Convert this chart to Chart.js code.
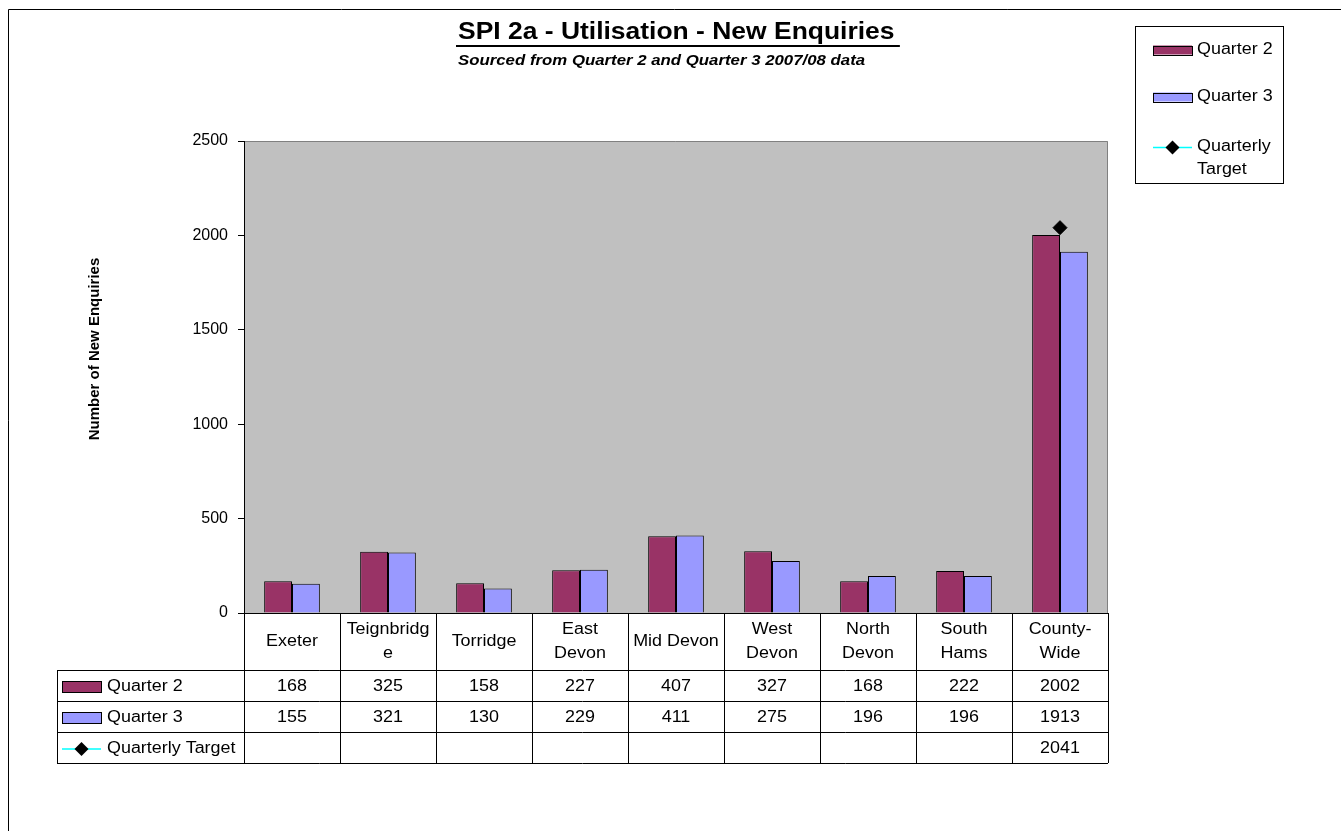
<!DOCTYPE html>
<html>
<head>
<meta charset="utf-8">
<title>SPI 2a - Utilisation - New Enquiries</title>
<script src="https://cdn.jsdelivr.net/npm/chart.js@4.4.0/dist/chart.umd.min.js"></script>
<style>
html, body { margin: 0; padding: 0; background: #fff; overflow: hidden; }
#wrap { position: relative; width: 1341px; height: 831px; }
</style>
</head>
<body>
<div id="wrap"><canvas id="chart" width="1341" height="831"></canvas></div>
<script>
const categories = [['Exeter'], ['Teignbridg', 'e'], ['Torridge'], ['East', 'Devon'], ['Mid Devon'],
    ['West', 'Devon'], ['North', 'Devon'], ['South', 'Hams'], ['County-', 'Wide']];
const quarter2 = [168, 325, 158, 227, 407, 327, 168, 222, 2002];
const quarter3 = [155, 321, 130, 229, 411, 275, 196, 196, 1913];
const quarterlyTarget = [null, null, null, null, null, null, null, null, 2041];
const yTicks = [0, 500, 1000, 1500, 2000, 2500];

const FONT = "'Liberation Sans', Arial, sans-serif";
const CAT_ROW_H = 57;
const ROW_H = 31;
const TABLE_LEFT = 57;
const TEXT_SX = 1.12;   // the worksheet text is a little wider than plain Arial

// fillText with a horizontal stretch, anchored at x
function wideText(ctx, text, x, y, sx, align) {
    ctx.save();
    ctx.translate(x, y);
    ctx.scale(sx, 1);
    ctx.textAlign = align;
    ctx.fillText(text, 0, 0);
    ctx.restore();
}

// grey plot area like the spreadsheet default
const plotBackground = {
    id: 'plotBackground',
    beforeDraw(chart) {
        const { ctx, chartArea: a } = chart;
        ctx.save();
        ctx.fillStyle = '#c0c0c0';
        ctx.fillRect(a.left, a.top, a.right - a.left, a.bottom - a.top);
        ctx.strokeStyle = '#808080';
        ctx.lineWidth = 1;
        ctx.beginPath();
        ctx.moveTo(a.left, a.top + 0.5);
        ctx.lineTo(a.right - 0.5, a.top + 0.5);
        ctx.lineTo(a.right - 0.5, a.bottom);
        ctx.stroke();
        ctx.restore();
    }
};

function drawKey(ctx, ds, x, y, w, h) {
    if (ds.type === 'line') {
        ctx.strokeStyle = ds.borderColor;
        ctx.lineWidth = 1.5;
        ctx.beginPath();
        ctx.moveTo(x, y + 0.5);
        ctx.lineTo(x + w, y + 0.5);
        ctx.stroke();
        const cx = x + w / 2, r = 7;
        ctx.fillStyle = ds.pointBackgroundColor;
        ctx.beginPath();
        ctx.moveTo(cx - r, y + 0.5);
        ctx.lineTo(cx, y + 0.5 - r);
        ctx.lineTo(cx + r, y + 0.5);
        ctx.lineTo(cx, y + 0.5 + r);
        ctx.closePath();
        ctx.fill();
    } else {
        ctx.fillStyle = ds.backgroundColor;
        ctx.fillRect(x, y - h / 2, w, h);
        ctx.strokeStyle = '#000';
        ctx.lineWidth = 1;
        ctx.strokeRect(Math.round(x) + 0.5, Math.round(y - h / 2) + 0.5, w, h);
    }
}

// titles, legend box, data table and outer frame
const decorations = {
    id: 'decorations',
    afterDraw(chart) {
        const { ctx, chartArea: a } = chart;
        const x = chart.scales.x;
        const n = chart.data.labels.length;
        const colW = (a.right - a.left) / n;
        const datasets = chart.data.datasets;
        ctx.save();

        // outer frame
        ctx.strokeStyle = '#000';
        ctx.lineWidth = 1;
        ctx.beginPath();
        ctx.moveTo(8.5, chart.height);
        ctx.lineTo(8.5, 9.5);
        ctx.lineTo(chart.width, 9.5);
        ctx.stroke();

        // title, underlined including its trailing space
        ctx.fillStyle = '#000';
        ctx.textBaseline = 'alphabetic';
        ctx.font = 'bold 23px ' + FONT;
        const title = 'SPI 2a - Utilisation - New Enquiries';
        wideText(ctx, title, 458, 39, 1.15, 'left');
        const tw = ctx.measureText(title + ' ').width * 1.15;
        ctx.fillRect(456, 45, tw, 2);
        ctx.font = 'italic bold 14px ' + FONT;
        wideText(ctx, 'Sourced from Quarter 2 and Quarter 3 2007/08 data', 458, 65, 1.2, 'left');

        // y axis title
        ctx.save();
        ctx.translate(99, 349);
        ctx.rotate(-Math.PI / 2);
        ctx.font = 'bold 15px ' + FONT;
        ctx.textAlign = 'center';
        ctx.fillText('Number of New Enquiries', 0, 0);
        ctx.restore();

        // legend box
        ctx.strokeStyle = '#000';
        ctx.lineWidth = 1;
        ctx.strokeRect(1135.5, 26.5, 148, 157);
        ctx.font = '16px ' + FONT;
        ctx.textBaseline = 'middle';
        const legendY = [50, 97, 147];
        datasets.forEach((ds, i) => {
            drawKey(ctx, ds, 1153, legendY[i], 39, 9);
            ctx.fillStyle = '#000';
            const parts = ds.label === 'Quarterly Target' ? ['Quarterly', 'Target'] : [ds.label];
            parts.forEach((p, j) => wideText(ctx, p, 1197, legendY[i] + j * 23, TEXT_SX, 'left'));
        });

        // data table grid
        const rowsTop = a.bottom + CAT_ROW_H;
        const tableBottom = rowsTop + ROW_H * datasets.length;
        ctx.strokeStyle = '#000';
        ctx.lineWidth = 1;
        ctx.beginPath();
        ctx.moveTo(a.left - 6, a.bottom + 0.5);
        ctx.lineTo(a.right, a.bottom + 0.5);
        for (let i = 0; i <= n; i++) {
            const cx = Math.round(a.left + i * colW) + 0.5;
            ctx.moveTo(cx, a.bottom);
            ctx.lineTo(cx, tableBottom);
        }
        for (let k = 0; k <= datasets.length; k++) {
            const ry = rowsTop + k * ROW_H + 0.5;
            ctx.moveTo(TABLE_LEFT, ry);
            ctx.lineTo(a.right, ry);
        }
        ctx.moveTo(TABLE_LEFT + 0.5, rowsTop);
        ctx.lineTo(TABLE_LEFT + 0.5, tableBottom);
        ctx.stroke();

        // category labels
        ctx.fillStyle = '#000';
        ctx.font = '16px ' + FONT;
        const catMid = a.bottom + CAT_ROW_H / 2;
        chart.data.labels.forEach((lab, i) => {
            const cx = x.getPixelForValue(i);
            lab.forEach((line, j) => {
                wideText(ctx, line, cx, catMid + (j - (lab.length - 1) / 2) * 24, TEXT_SX, 'center');
            });
        });

        // series rows
        datasets.forEach((ds, k) => {
            const ry = rowsTop + k * ROW_H + ROW_H / 2 + 1;
            drawKey(ctx, ds, 62, ry, 39, 11);
            ctx.fillStyle = '#000';
            wideText(ctx, ds.label, 107, ry, TEXT_SX, 'left');
            ds.data.forEach((v, i) => {
                if (v !== null) wideText(ctx, String(v), x.getPixelForValue(i), ry, TEXT_SX, 'center');
            });
        });

        ctx.restore();
    }
};

new Chart(document.getElementById('chart'), {
    type: 'bar',
    data: {
        labels: categories,
        datasets: [{
            label: 'Quarter 2',
            data: quarter2,
            backgroundColor: '#993366',
            borderColor: '#000',
            borderWidth: 1,
            order: 1
        }, {
            label: 'Quarter 3',
            data: quarter3,
            backgroundColor: '#9999ff',
            borderColor: '#000',
            borderWidth: 1,
            order: 1
        }, {
            type: 'line',
            label: 'Quarterly Target',
            data: quarterlyTarget,
            borderColor: '#00ffff',
            backgroundColor: '#000',
            pointBackgroundColor: '#000',
            pointBorderColor: '#000',
            pointStyle: 'rectRot',
            pointRadius: 7,
            pointBorderWidth: 1,
            order: 0
        }]
    },
    options: {
        responsive: false,
        animation: false,
        devicePixelRatio: 1,
        layout: { padding: { left: 0, top: 141, right: 233, bottom: 218 } },
        datasets: { bar: { categoryPercentage: 0.58, barPercentage: 1.0 } },
        plugins: {
            legend: { display: false },
            tooltip: { enabled: false },
            title: { display: false }
        },
        scales: {
            x: { display: false },
            y: {
                min: 0,
                max: 2500,
                afterFit: (scale) => { scale.width = 244; },
                afterBuildTicks: (scale) => { scale.ticks = yTicks.map(v => ({ value: v })); },
                border: { display: true, color: '#000', width: 1 },
                grid: { drawOnChartArea: false, drawTicks: true, tickLength: 6, color: '#000' },
                ticks: {
                    padding: 10,
                    color: '#000',
                    font: { family: FONT, size: 16 },
                    callback: (v) => String(v)
                }
            }
        }
    },
    plugins: [plotBackground, decorations]
});
</script>
</body>
</html>
